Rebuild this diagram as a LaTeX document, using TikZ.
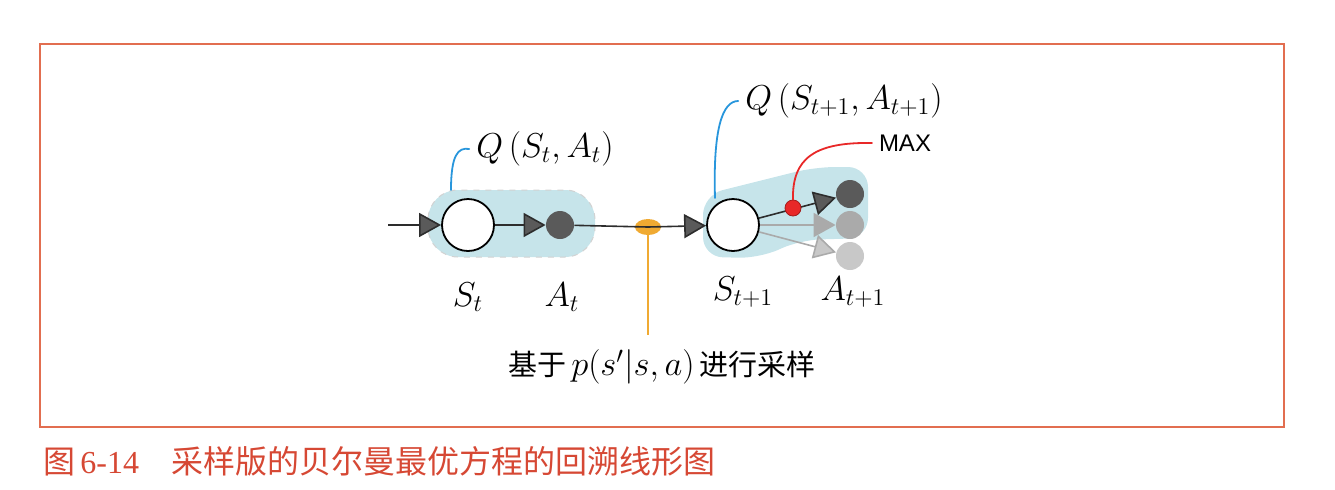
\documentclass[tikz,border=0pt]{standalone}
\usepackage{fontspec}
\newfontfamily\cjk{Noto Sans CJK SC}
\newfontfamily\capfont{Liberation Serif}
\newfontfamily\maxfont{Liberation Sans}
\usetikzlibrary{arrows.meta,shapes.geometric}
\definecolor{frameorange}{RGB}{226,110,80}
\definecolor{capred}{RGB}{214,72,52}
\definecolor{qblue}{RGB}{40,150,220}
\definecolor{hlblue}{RGB}{198,228,234}
\definecolor{samporange}{RGB}{240,170,50}
\definecolor{maxred}{RGB}{232,40,40}
\definecolor{nodegray}{RGB}{90,90,90}
\definecolor{linegray}{RGB}{45,45,45}
\definecolor{midgray}{RGB}{170,170,170}
\definecolor{palegray}{RGB}{200,200,200}

\begin{document}
\begin{tikzpicture}[x=0.5pt, y=-0.5pt,
  statenode/.style={circle, draw=black, line width=0.9pt, fill=white, minimum size=26pt, inner sep=0pt},
  actnode/.style={circle, fill=#1, minimum size=14pt, inner sep=0pt},
  tip/.style 2 args={draw=#1, line width=0.8pt, -{Triangle[length=11pt,width=12pt,fill=#2]}},
  mathlbl/.style={font=\fontsize{17}{20}\selectfont},
  callout/.style={line width=0.9pt, line cap=round}]
\useasboundingbox (0,0) rectangle (1335,489);
% Frame
\draw[frameorange, line width=0.8pt] (40,44) rectangle (1284,427);

% Highlighted pairs
\fill[hlblue, rounded corners=15pt] (428,190) rectangle (595,257);
\draw[gray!35, dashed, line width=0.5pt, rounded corners=15pt] (428,190) rectangle (595,257);
\fill[hlblue, rounded corners=10pt] (703,257) -- (703,195) -- (815,167) -- (868,167)
  -- (868,238) -- (800,240) -- (760,258) -- cycle;

% Nodes
\coordinate (in) at (388,225);
\node[statenode] (st) at (468,225) {};
\node[actnode=nodegray] (at) at (560,225) {};
\node[ellipse, fill=samporange, minimum width=13pt, minimum height=8pt, inner sep=0pt] (samp) at (648,227) {};
\node[statenode] (st1) at (733,225) {};
\node[actnode=nodegray] (a1) at (850,194) {};
\node[actnode=midgray] (a2) at (850,225) {};
\node[actnode=palegray] (a3) at (850,256) {};

% Transitions
\draw[tip={linegray}{nodegray}] (in) -- (st);
\draw[tip={linegray}{nodegray}] (st) -- (at);
\draw[tip={linegray}{nodegray}] (at) -- (samp.center) -- (st1);
\draw[tip={midgray}{palegray}] (st1) -- (a3);
\draw[tip={midgray}{midgray}] (st1) -- (a2);
\draw[tip={linegray}{nodegray}] (st1) -- (a1);
\node[circle, fill=maxred, draw=maxred!70!black, line width=0.4pt, minimum size=8pt, inner sep=0pt] (maxdot) at (793,208) {};

% Labels
\node[mathlbl] (lst) at (468,297) {$S_t$};
\node[mathlbl] (lat) at (562,297) {$A_t$};
\node[mathlbl] (lst1) at (743,292) {$S_{t+1}$};
\node[mathlbl] (la1) at (853,292) {$A_{t+1}$};
\node[mathlbl] (qst) at (545,149) {$Q\,(S_t, A_t)$};
\node[mathlbl] (qst1) at (844,101) {$Q\,(S_{t+1}, A_{t+1})$};
\node[font=\maxfont\fontsize{12}{14}\selectfont] (maxlbl) at (905,143) {MAX};
\node[font=\fontsize{14.5}{17}\selectfont] (samptxt) at (662,367)
  {{\cjk 基于}\,{\fontsize{16.5}{19}\selectfont$p(s'|s,a)$}\,{\cjk 进行采样}};

% Callouts
\coordinate (qsrc) at (451,190);
\coordinate (qsrc1) at (715,198);
\coordinate (sampend) at (648,335);
\draw[callout, qblue] (qsrc) .. controls (451,155) and (458,147) .. (qst.west);
\draw[callout, qblue] (qsrc1) .. controls (713,130) and (722,101) .. (qst1.west);
\draw[callout, maxred] (maxdot.north) .. controls (792,158) and (815,142) .. (maxlbl.west);
\draw[callout, samporange, line cap=butt] (samp.south) -- (sampend);

% Caption
\node[anchor=west, text=capred, font=\fontsize{16}{19}\selectfont] (cap) at (36,461)
  {{\cjk 图}\,{\capfont 6-14}\quad{\cjk 采样版的贝尔曼最优方程的回溯线形图}};
\end{tikzpicture}
\end{document}
